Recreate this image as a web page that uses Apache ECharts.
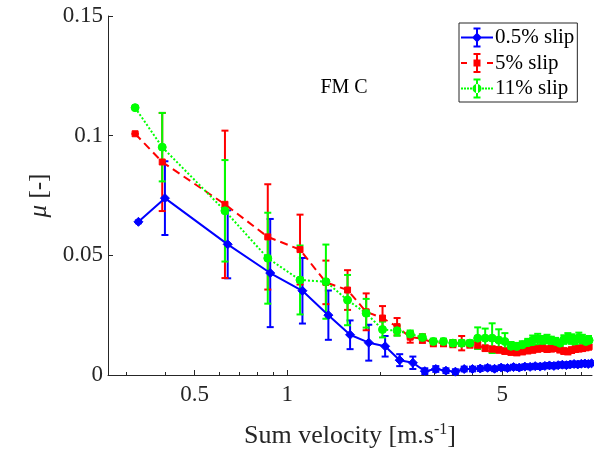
<!DOCTYPE html>
<html>
<head>
<meta charset="utf-8">
<script src="https://cdn.jsdelivr.net/npm/echarts@6/dist/echarts.min.js"></script>
<style>html,body{margin:0;padding:0;background:#fff}#c{width:594px;height:454px}</style>
</head>
<body>
<div id="c"></div>
<script>
// ---- data ----
var seriesNames = ['0.5% slip', '5% slip', '11% slip'];
var xTickLabels = [0.5, 1, 5];
var xMinorTicks = [0.3, 0.4, 0.6, 0.7, 0.8, 0.9, 2, 3, 4, 6, 7, 8, 9];
var yTicks = [0, 0.05, 0.1, 0.15];

var xBlue = [0.328, 0.40, 0.64, 0.88, 1.12, 1.36, 1.60, 1.84, 2.08, 2.32, 2.56, 2.80, 3.04, 3.28, 3.52, 3.76, 4.00, 4.24, 4.48, 4.72, 4.96, 5.20, 5.44, 5.68, 5.92, 6.16, 6.40, 6.64, 6.88, 7.12, 7.36, 7.60, 7.84, 8.08, 8.32, 8.56, 8.80, 9.04, 9.28, 9.52, 9.76];
var muBlue = [0.0640, 0.0739, 0.0546, 0.0426, 0.0352, 0.0250, 0.0168, 0.0135, 0.0120, 0.0062, 0.0051, 0.0016, 0.0025, 0.0018, 0.0014, 0.0025, 0.0025, 0.0027, 0.0030, 0.0026, 0.0031, 0.0029, 0.0033, 0.0031, 0.0035, 0.0034, 0.0037, 0.0035, 0.0038, 0.0040, 0.0038, 0.0041, 0.0043, 0.0041, 0.0044, 0.0046, 0.0044, 0.0047, 0.0048, 0.0046, 0.0049];
var errBlue = [0.0006, 0.0154, 0.0142, 0.0226, 0.0137, 0.0103, 0.0060, 0.0075, 0.0043, 0.0025, 0.0026, 0.0012, 0.0012, 0.0010, 0.0010, 0.0010, 0.0010, 0.0010, 0.0010, 0.0010, 0.0010, 0.0010, 0.0010, 0.0010, 0.0010, 0.0010, 0.0010, 0.0010, 0.0010, 0.0010, 0.0010, 0.0010, 0.0010, 0.0010, 0.0010, 0.0010, 0.0010, 0.0010, 0.0010, 0.0010, 0.0010];

var xRG = [0.320, 0.392, 0.627, 0.864, 1.10, 1.335, 1.57, 1.805, 2.04, 2.275, 2.51, 2.75, 2.985, 3.22, 3.455, 3.69, 3.925, 4.16, 4.40, 4.635, 4.87, 5.10, 5.34, 5.575, 5.81, 6.05, 6.28, 6.52, 6.75, 6.99, 7.22, 7.46, 7.70, 7.93, 8.17, 8.40, 8.64, 8.87, 9.11, 9.35, 9.58];
var muRed = [0.1008, 0.0890, 0.0713, 0.0577, 0.0524, 0.0387, 0.0355, 0.0264, 0.0238, 0.0202, 0.0158, 0.0152, 0.0135, 0.0135, 0.0131, 0.0133, 0.0128, 0.0124, 0.0112, 0.0108, 0.0105, 0.0100, 0.0096, 0.0094, 0.0098, 0.0102, 0.0105, 0.0109, 0.0112, 0.0108, 0.0110, 0.0112, 0.0106, 0.0100, 0.0098, 0.0104, 0.0108, 0.0110, 0.0112, 0.0115, 0.0118];
var errRed = [0, 0.0205, 0.0308, 0.0220, 0.0146, 0.0091, 0.0083, 0.0077, 0.0050, 0.0036, 0.0023, 0.0018, 0.0015, 0.0015, 0.0015, 0.0030, 0.0014, 0.0014, 0.0012, 0.0012, 0.0012, 0.0012, 0.0012, 0.0012, 0.0012, 0.0012, 0.0012, 0.0012, 0.0012, 0.0012, 0.0012, 0.0012, 0.0012, 0.0012, 0.0012, 0.0012, 0.0012, 0.0012, 0.0012, 0.0012, 0.0012];
var muGreen = [0.1117, 0.0952, 0.0686, 0.0488, 0.0397, 0.0390, 0.0313, 0.0258, 0.0190, 0.0185, 0.0171, 0.0157, 0.0140, 0.0140, 0.0133, 0.0133, 0.0133, 0.0154, 0.0154, 0.0154, 0.0146, 0.0140, 0.0120, 0.0119, 0.0126, 0.0136, 0.0145, 0.0150, 0.0145, 0.0150, 0.0145, 0.0140, 0.0133, 0.0148, 0.0155, 0.0150, 0.0145, 0.0157, 0.0150, 0.0140, 0.0145];
var errGreen = [0, 0.0143, 0.0212, 0.0190, 0.0144, 0.0155, 0.0105, 0.0060, 0.0033, 0.0021, 0.0015, 0.0012, 0.0012, 0.0012, 0.0012, 0.0012, 0.0012, 0.0045, 0.0040, 0.0062, 0.0045, 0.0035, 0.0018, 0.0015, 0.0015, 0.0015, 0.0020, 0.0022, 0.0018, 0.0018, 0.0015, 0.0015, 0.0015, 0.0018, 0.0020, 0.0020, 0.0018, 0.0020, 0.0018, 0.0015, 0.0018];

// ---- helpers ----
var FONT = 'Liberation Serif';
function pts(xs, ys) { return xs.map(function (x, i) { return [x, ys[i]]; }); }
function bars(xs, ys, es) { return xs.map(function (x, i) { return [x, ys[i] - es[i], ys[i] + es[i]]; }); }
function errSeries(name, xs, ys, es, color) {
  return {
    type: 'custom', name: name + ' err', clip: true, silent: true,
    data: bars(xs, ys, es),
    encode: { x: 0, y: [1, 2] },
    renderItem: function (params, api) {
      var lo = api.coord([api.value(0), api.value(1)]);
      var hi = api.coord([api.value(0), api.value(2)]);
      var w = 3.5;
      var st = { stroke: color, lineWidth: 2 };
      return {
        type: 'group', children: [
          { type: 'line', shape: { x1: lo[0], y1: lo[1], x2: hi[0], y2: hi[1] }, style: st },
          { type: 'line', shape: { x1: lo[0] - w, y1: lo[1], x2: lo[0] + w, y2: lo[1] }, style: st },
          { type: 'line', shape: { x1: hi[0] - w, y1: hi[1], x2: hi[0] + w, y2: hi[1] }, style: st }
        ]
      };
    }
  };
}
var barPath = 'M15 1H17V19H15Z M12.5 0H19.5V2H12.5Z M12.5 18H19.5V20H12.5Z ';
var iconBlue = 'path://M0 9H32V11H0Z ' + barPath + 'M16 5L21 10L16 15L11 10Z';
var iconRed = 'path://M0 9H6V11H0Z M26 9H32V11H26Z ' + barPath + 'M12.5 6.5H19.5V13.5H12.5Z';
var dots = '';
[0, 3, 6, 9, 21, 24, 27, 30].forEach(function (d) { dots += 'M' + d + ' 9H' + (d + 2) + 'V11H' + d + 'Z '; });
var iconGreen = 'path://' + dots + barPath + 'M11.5 10A4.5 4.5 0 1 0 20.5 10A4.5 4.5 0 1 0 11.5 10Z';

var chart = echarts.init(document.getElementById('c'), null, { renderer: 'canvas' });
var axisColor = '#262626';
chart.setOption({
  animation: false,
  backgroundColor: '#fff',
  grid: { left: 108, right: 2, top: 16, bottom: 77, containLabel: false },
  title: {
    text: 'FM C', left: 339, top: 73, textAlign: 'center',
    textStyle: { fontFamily: FONT, fontSize: 20, fontWeight: 'normal', color: '#000' }
  },
  legend: {
    data: [
      { name: seriesNames[0], icon: iconBlue },
      { name: seriesNames[1], icon: iconRed },
      { name: seriesNames[2], icon: iconGreen }
    ],
    orient: 'vertical', left: 459, top: 23,
    itemWidth: 32, itemHeight: 20, itemGap: 4.5,
    padding: [4, 3, 3, 2],
    borderColor: axisColor, borderWidth: 1, backgroundColor: '#fff',
    itemStyle: { borderWidth: 0 },
    textStyle: { fontFamily: FONT, fontSize: 21, color: '#000', lineHeight: 20, padding: [0, 0, 0, -3] },
    selectedMode: false
  },
  xAxis: [{
    type: 'log', logBase: 10, min: 0.2612, max: 9.79,
    name: 'Sum velocity [m.s{sup|-1}]', nameLocation: 'middle', nameGap: 47,
    nameTextStyle: {
      fontFamily: FONT, fontSize: 26, color: axisColor,
      rich: { sup: { fontFamily: FONT, fontSize: 16, color: axisColor, verticalAlign: 'top', padding: [0, 0, 12, 0] } }
    },
    axisLine: { show: true, lineStyle: { color: axisColor, width: 1 } },
    axisTick: { show: true, inside: true, length: 5, customValues: xTickLabels, lineStyle: { color: axisColor } },
    axisLabel: { customValues: xTickLabels, margin: 8, fontFamily: FONT, fontSize: 23, color: axisColor,
      formatter: function (v) { return String(+(+v).toPrecision(6)); } },
    splitLine: { show: false }, minorTick: { show: false }, minorSplitLine: { show: false }
  }, {
    type: 'log', logBase: 10, min: 0.2612, max: 9.79, position: 'bottom',
    axisLine: { show: false },
    axisTick: { show: true, inside: true, length: 3, customValues: xMinorTicks, lineStyle: { color: axisColor } },
    axisLabel: { show: false }, splitLine: { show: false }
  }],
  yAxis: {
    type: 'value', min: 0, max: 0.15, interval: 0.05,
    name: '{i|μ} [-]', nameLocation: 'middle', nameGap: 55, nameRotate: 90,
    nameTextStyle: {
      fontFamily: FONT, fontSize: 25, color: axisColor,
      rich: { i: { fontFamily: FONT, fontSize: 25, fontStyle: 'italic', color: axisColor } }
    },
    axisLine: { show: true, lineStyle: { color: axisColor, width: 1 } },
    axisTick: { show: true, inside: true, length: 5, lineStyle: { color: axisColor } },
    axisLabel: { margin: 5, fontFamily: FONT, fontSize: 23, color: axisColor,
      customValues: yTicks, formatter: function (v) { return String(+(+v).toFixed(4)); } },
    splitLine: { show: false }
  },
  series: [
    errSeries(seriesNames[0], xBlue, muBlue, errBlue, '#0000ff'),
    {
      type: 'line', name: seriesNames[0], data: pts(xBlue, muBlue), clip: true,
      symbol: 'diamond', symbolSize: 9, showAllSymbol: true,
      lineStyle: { color: '#0000ff', width: 2 },
      itemStyle: { color: '#0000ff', borderColor: '#0000ff', borderWidth: 1 }
    },
    errSeries(seriesNames[1], xRG, muRed, errRed, '#ff0000'),
    {
      type: 'line', name: seriesNames[1], data: pts(xRG, muRed), clip: true,
      symbol: 'rect', symbolSize: 6, showAllSymbol: true,
      lineStyle: { color: '#ff0000', width: 2, type: [8, 5] },
      itemStyle: { color: '#ff0000', borderColor: '#ff0000', borderWidth: 1 }
    },
    errSeries(seriesNames[2], xRG, muGreen, errGreen, '#00ff00'),
    {
      type: 'line', name: seriesNames[2], data: pts(xRG, muGreen), clip: true,
      symbol: 'circle', symbolSize: 8, showAllSymbol: true,
      lineStyle: { color: '#00ff00', width: 2, type: [2, 2] },
      itemStyle: { color: '#00ff00', borderColor: '#00ff00', borderWidth: 1 }
    }
  ]
});
</script>
</body>
</html>
